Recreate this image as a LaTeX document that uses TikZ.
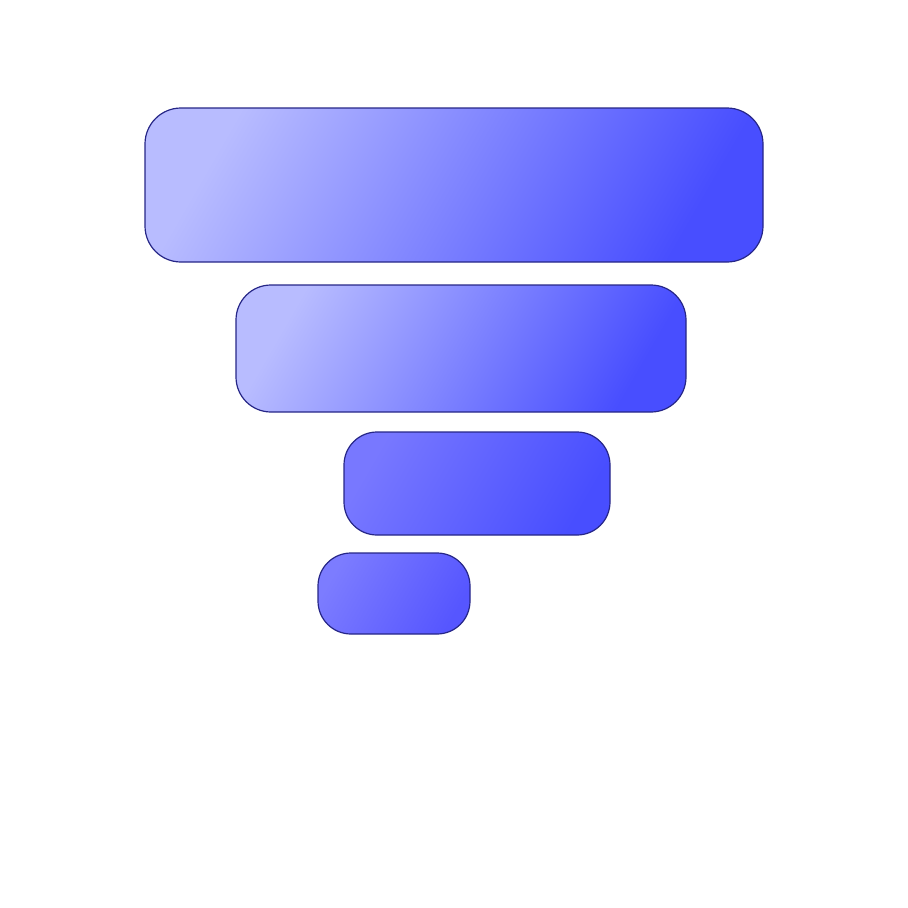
\documentclass[tikz,border=0pt]{standalone}
\begin{document}
\begin{tikzpicture}[x=1pt,y=-1pt,
  tier/.style={draw={rgb,255:red,38;green,38;blue,135}, line width=1.2pt, inner sep=0pt}]
\useasboundingbox (0,0) rectangle (908,908);
\definecolor{dk}{RGB}{72,78,255}
\definecolor{lt1}{RGB}{184,188,255}
\definecolor{lt3}{RGB}{120,120,255}
\definecolor{lt4}{RGB}{124,124,255}
\definecolor{dk4}{RGB}{86,86,255}
\node[tier, left color=lt1, right color=dk, shading angle=60, rounded corners=36pt, minimum width=618pt, minimum height=154pt] (t1) at (454,185) {};
\node[tier, left color=lt1, right color=dk, shading angle=60, rounded corners=35pt, minimum width=450pt, minimum height=127pt] (t2) at (461,348.5) {};
\node[tier, left color=lt3, right color=dk, shading angle=60, rounded corners=33pt, minimum width=266pt, minimum height=103pt] (t3) at (477,483.5) {};
\node[tier, left color=lt4, right color=dk4, shading angle=60, rounded corners=33pt, minimum width=152pt, minimum height=81pt] (t4) at (394,593.5) {};
\end{tikzpicture}
\end{document}
